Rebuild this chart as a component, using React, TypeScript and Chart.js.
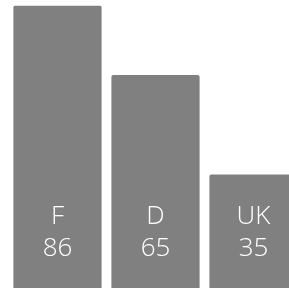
import React, { useEffect, useRef } from "react";
import { Chart, registerables } from "chart.js";

Chart.register(...registerables);

const categories = ["F", "D", "UK"];
const values = [86, 65, 35];
const yMin = 0;
const yMax = 86;
const FONT = "300 26px 'Open Sans'";

export default function App() {
  const ref = useRef<HTMLCanvasElement | null>(null);

  useEffect(() => {
    let chart: any = null;
    let cancelled = false;
    const labelPlugin = {
      id: "insideLabels",
      afterDatasetsDraw(c: any) {
        const ctx = c.ctx;
        const meta = c.getDatasetMeta(0);
        const bottom = c.chartArea.bottom;
        ctx.save();
        ctx.fillStyle = "#ffffff";
        ctx.textAlign = "center";
        ctx.textBaseline = "alphabetic";
        ctx.font = FONT;
        meta.data.forEach((el: any, i: number) => {
          ctx.fillText(String(c.data.labels[i]), el.x, bottom - 67);
          ctx.fillText(String(c.data.datasets[0].data[i]), el.x, bottom - 34.5);
        });
        ctx.restore();
      },
    };
    const make = () => {
      if (cancelled || !ref.current) return;
      chart = new Chart(ref.current, {
        type: "bar",
        data: {
          labels: categories,
          datasets: [
            {
              data: values,
              backgroundColor: "#808080",
              borderRadius: 2,
              borderSkipped: "bottom",
              barPercentage: 0.9,
              categoryPercentage: 1,
            },
          ],
        },
        options: {
          responsive: false,
          animation: false,
          layout: { padding: { left: 8.5, right: 7.5, top: 5.5, bottom: 4.5 } },
          plugins: { legend: { display: false }, tooltip: { enabled: false } },
          scales: {
            x: { display: false, offset: true },
            y: { display: false, min: yMin, max: yMax },
          },
        },
        plugins: [labelPlugin],
      });
    };
    const fonts: any = (document as any).fonts;
    if (fonts && fonts.load) {
      Promise.all([fonts.load(FONT, "FDUK0123456789"), fonts.load("26px 'Open Sans'", "FDUK0123456789")])
        .then(make, make);
    } else {
      make();
    }
    return () => {
      cancelled = true;
      if (chart) chart.destroy();
    };
  }, []);

  return (
    <div style={{ position: "fixed", left: 0, top: 0, width: 289, height: 288, overflow: "hidden", background: "#fff" }}>
      <canvas ref={ref} width={310} height={295} style={{ display: "block" }} />
    </div>
  );
}
